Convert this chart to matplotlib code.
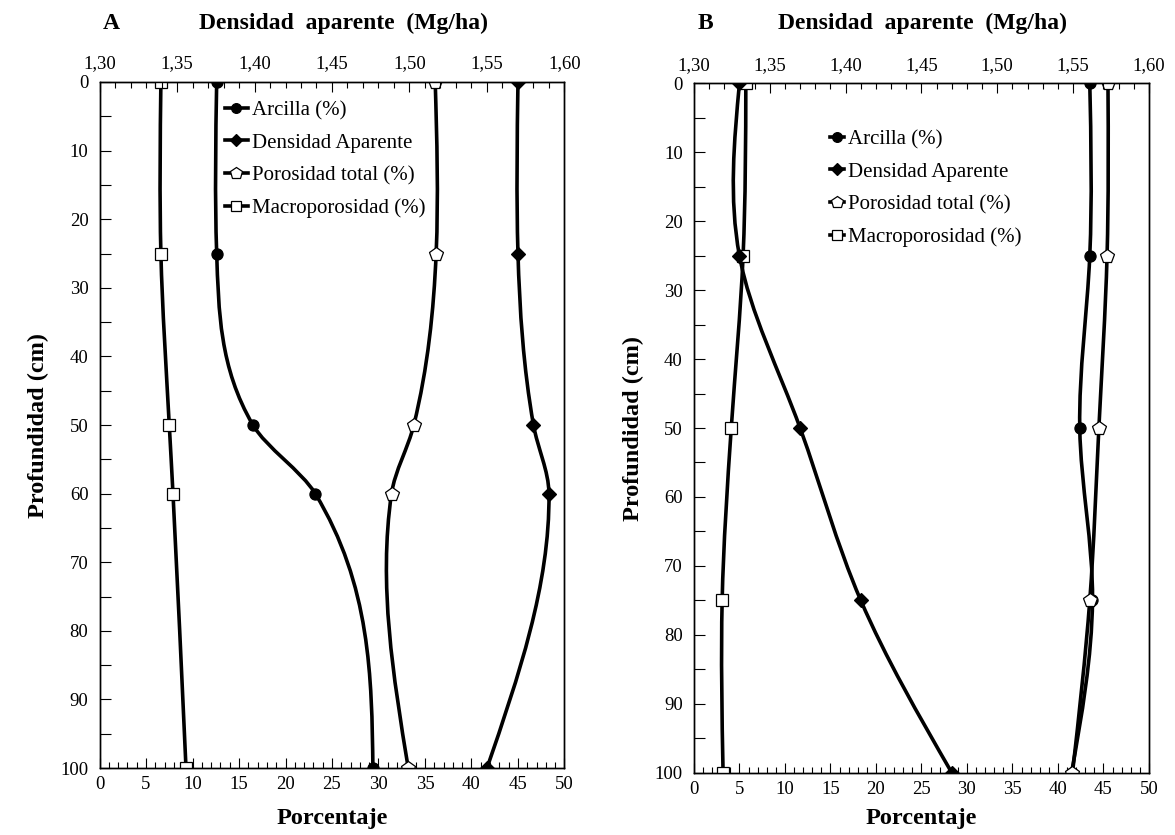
import numpy as np
import matplotlib
matplotlib.use("Agg")
import matplotlib.pyplot as plt
from matplotlib.path import Path
from matplotlib.patches import PathPatch
from matplotlib.lines import Line2D
from matplotlib.ticker import MultipleLocator

plt.rcParams['font.family'] = ['Liberation Serif', 'DejaVu Serif']

# panel A
depth_A = [0, 25, 50, 60, 100]
arcilla_A = [12.6, 12.6, 16.5, 23.2, 29.4]
densidad_A = [1.570, 1.570, 1.580, 1.590, 1.550]
porosidad_A = [36.1, 36.2, 33.8, 31.4, 33.2]
macro_A = [6.6, 6.6, 7.5, 7.9, 9.3]

# panel B
depth_B = [0, 25, 50, 75, 100]
arcilla_B = [43.5, 43.5, 42.4, 43.8, 41.5]
densidad_B = [1.330, 1.330, 1.370, 1.410, 1.470]
porosidad_B = [45.5, 45.4, 44.5, 43.5, 41.6]
macro_B = [5.7, 5.4, 4.1, 3.1, 3.2]

series_labels = ['Arcilla (%)', 'Densidad Aparente', 'Porosidad total (%)', 'Macroporosidad (%)']
pct_ticks = [0, 5, 10, 15, 20, 25, 30, 35, 40, 45, 50]
dens_ticks = [1.30, 1.35, 1.40, 1.45, 1.50, 1.55, 1.60]
dens_labels = ['1,30', '1,35', '1,40', '1,45', '1,50', '1,55', '1,60']
depth_ticks = [0, 10, 20, 30, 40, 50, 60, 70, 80, 90, 100]

markers = ['o', 'D', 'p', 's']
msizes = [8, 7, 10, 8.5]
filled = [True, True, False, False]


def knot_slopes(x, t):
    # half natural spline, half catmull-rom style slopes
    n = len(x)
    h = np.diff(t)
    A = np.zeros((n, n))
    r = np.zeros(n)
    A[0, 0] = A[-1, -1] = 1
    for i in range(1, n - 1):
        A[i, i - 1] = h[i - 1]
        A[i, i] = 2 * (h[i - 1] + h[i])
        A[i, i + 1] = h[i]
        r[i] = 6 * ((x[i + 1] - x[i]) / h[i] - (x[i] - x[i - 1]) / h[i - 1])
    M = np.linalg.solve(A, r)
    nat = np.zeros(n)
    for i in range(n - 1):
        nat[i] = (x[i + 1] - x[i]) / h[i] - h[i] * (2 * M[i] + M[i + 1]) / 6
    nat[-1] = (x[-1] - x[-2]) / h[-1] + h[-1] * (M[-2] + 2 * M[-1]) / 6

    cr = np.zeros(n)
    cr[1:-1] = (x[2:] - x[:-2]) / (t[2:] - t[:-2])
    s = np.diff(x) / h
    cr[0] = (3 * s[0] - cr[1]) / 2
    cr[-1] = (3 * s[-1] - cr[-2]) / 2
    return 0.5 * (nat + cr)


def smooth_path(xv, yv):
    x = np.asarray(xv, float)
    t = np.asarray(yv, float)
    m = knot_slopes(x, t)
    h = np.diff(t)
    verts = [(x[0], t[0])]
    codes = [Path.MOVETO]
    for i in range(len(x) - 1):
        verts += [(x[i] + m[i] * h[i] / 3, t[i] + h[i] / 3),
                  (x[i + 1] - m[i + 1] * h[i] / 3, t[i + 1] - h[i] / 3),
                  (x[i + 1], t[i + 1])]
        codes += [Path.CURVE4] * 3
    return Path(verts, codes)


def draw_series(ax, xv, depth, k):
    ax.add_patch(PathPatch(smooth_path(xv, depth), fill=False, lw=2.6,
                           edgecolor='black', joinstyle='round'))
    ax.plot(xv, depth, linestyle='none', marker=markers[k], ms=msizes[k],
            mfc='black' if filled[k] else 'white', mec='black', mew=0.9, zorder=5)


def panel(rect, depth, arcilla, densidad, porosidad, macro, letter, title_x,
          leg_anchor, handlelen):
    ax = fig.add_axes(rect)
    axt = ax.twiny()
    ax.set_xlim(0, 50)
    ax.set_ylim(100, 0)
    axt.set_xlim(1.30, 1.60)

    draw_series(ax, arcilla, depth, 0)
    draw_series(axt, densidad, depth, 1)
    draw_series(ax, porosidad, depth, 2)
    draw_series(ax, macro, depth, 3)

    ax.set_xticks(pct_ticks)
    ax.set_xticklabels([str(v) for v in pct_ticks])
    ax.xaxis.set_minor_locator(MultipleLocator(1))
    ax.set_yticks(depth_ticks)
    ax.set_yticklabels([str(v) for v in depth_ticks])
    ax.yaxis.set_minor_locator(MultipleLocator(5))
    axt.set_xticks(dens_ticks)
    axt.set_xticklabels(dens_labels)
    axt.xaxis.set_minor_locator(MultipleLocator(0.01))

    ax.tick_params(axis='x', which='major', direction='in', length=7, width=0.8,
                   labelsize=13.5, pad=6, top=False, bottom=True)
    ax.tick_params(axis='x', which='minor', direction='in', length=4, width=0.8,
                   top=False, bottom=True)
    ax.tick_params(axis='y', which='both', direction='in', length=8, width=0.8,
                   labelsize=13.5, pad=8, left=True, right=False)
    axt.tick_params(axis='x', which='major', direction='in', length=7, width=0.8,
                    labelsize=13.5, pad=7)
    axt.tick_params(axis='x', which='minor', direction='in', length=4, width=0.8)
    for a in (ax, axt):
        for s in a.spines.values():
            s.set_linewidth(1.0)

    ax.set_ylabel('Profundidad (cm)', fontsize=17.5, fontweight='bold', labelpad=8)
    fig.text(rect[0] + rect[2] / 2, 0.02, 'Porcentaje', fontsize=17.5,
             fontweight='bold', ha='center', va='center')

    handles = [Line2D([], [], color='black', lw=2.6, marker=markers[k],
                      ms=msizes[k] - 1, mfc='black' if filled[k] else 'white',
                      mec='black', mew=0.9) for k in range(4)]
    axt.legend(handles, series_labels, loc='upper left', bbox_to_anchor=leg_anchor,
               frameon=False, fontsize=15, handlelength=handlelen, handletextpad=0.2,
               labelspacing=0.62, borderaxespad=0)

    fig.text(rect[0] + 0.003, 0.972, letter, fontsize=17, fontweight='bold',
             ha='left', va='center')
    fig.text(title_x, 0.972, 'Densidad  aparente  (Mg/ha)', fontsize=17,
             fontweight='bold', ha='center', va='center')
    return ax


fig = plt.figure(figsize=(11.75, 8.35), dpi=100)

panel([0.0847, 0.0802, 0.3957, 0.8216], depth_A, arcilla_A, densidad_A,
      porosidad_A, macro_A, 'A', 0.292, (0.252, 0.985), 1.1)
panel([0.5906, 0.0746, 0.3872, 0.8256], depth_B, arcilla_B, densidad_B,
      porosidad_B, macro_B, 'B', 0.785, (0.28, 0.945), 0.7)

fig.savefig('out.png', dpi=100)
